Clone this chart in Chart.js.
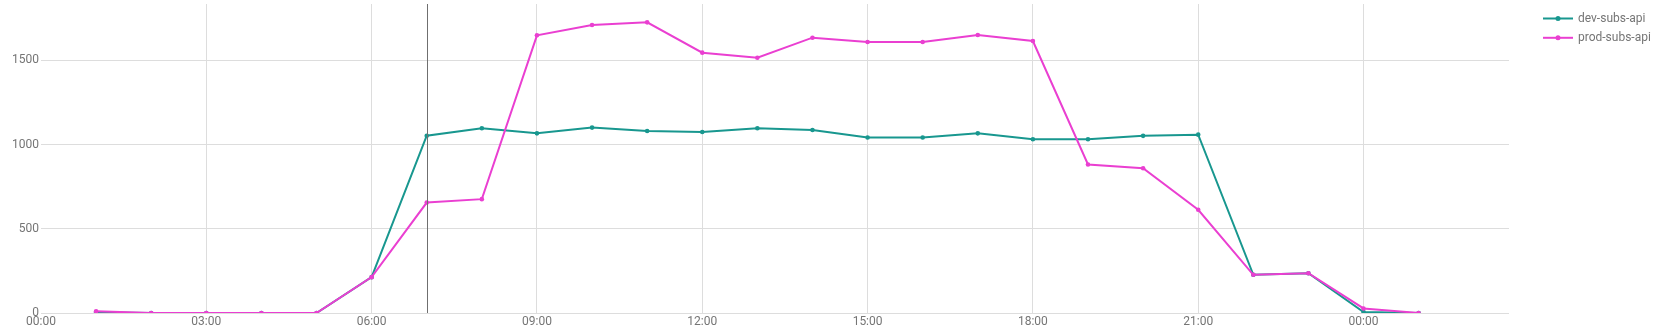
<!DOCTYPE html>
<html>
<head>
<meta charset="utf-8">
<script src="https://cdn.jsdelivr.net/npm/chart.js@4/dist/chart.umd.min.js"></script>
<style>
  html, body { margin: 0; padding: 0; background: #fff; }
  #wrap { width: 1659px; height: 330px; position: relative; }
</style>
</head>
<body>
<div id="wrap"><canvas id="subsChart"></canvas></div>
<script>
// hours since 00:00 of the day shown
const hours = [1, 2, 3, 4, 5, 6, 7, 8, 9, 10, 11, 12, 13, 14, 15, 16, 17, 18, 19, 20, 21, 22, 23, 24, 25];
const devSubs = [5, 0, 0, 0, 0, 213, 1053, 1097, 1067, 1101, 1081, 1075, 1097, 1087, 1042, 1042, 1067, 1032, 1032, 1052, 1059, 227, 236, 6, 0];
const prodSubs = [10, 0, 0, 0, 0, 213, 656, 676, 1649, 1710, 1726, 1546, 1516, 1635, 1609, 1609, 1651, 1615, 882, 860, 613, 227, 236, 27, 0];
const seriesNames = ["dev-subs-api", "prod-subs-api"];
const xTickValues = [0, 3, 6, 9, 12, 15, 18, 21, 24];
const xTickLabels = ["00:00", "03:00", "06:00", "09:00", "12:00", "15:00", "18:00", "21:00", "00:00"];
const yTickValues = [0, 500, 1000, 1500];
const cursorHour = 7;

const TEAL = "#18978f";
const PINK = "#ea3fd1";
const TEXT = "#757575";
const GRID = "#dddddd";

// vertical hover line + right-side legend
const overlayPlugin = {
  id: "overlay",
  afterDatasetsDraw(chart) {
    const { ctx, chartArea, scales } = chart;
    const x = Math.round(scales.x.getPixelForValue(cursorHour)) + 0.5;
    ctx.save();
    ctx.strokeStyle = "#6f6f6f";
    ctx.lineWidth = 1;
    ctx.beginPath();
    ctx.moveTo(x, chartArea.top);
    ctx.lineTo(x, chartArea.bottom);
    ctx.stroke();

    chart.data.datasets.forEach((ds, i) => {
      const y = 18.5 + i * 19.3;
      ctx.strokeStyle = ds.borderColor;
      ctx.lineWidth = 2;
      ctx.beginPath();
      ctx.moveTo(1543, y);
      ctx.lineTo(1573, y);
      ctx.stroke();
      ctx.fillStyle = ds.borderColor;
      ctx.beginPath();
      ctx.arc(1558, y, 2.5, 0, Math.PI * 2);
      ctx.fill();
      ctx.fillStyle = TEXT;
      ctx.font = "12px Roboto";
      ctx.textBaseline = "middle";
      ctx.textAlign = "left";
      ctx.fillText(ds.label, 1578, y);
    });
    ctx.restore();
  }
};

function toPoints(values) {
  return hours.map((h, i) => ({ x: h, y: values[i] }));
}

new Chart(document.getElementById("subsChart"), {
  type: "line",
  data: {
    datasets: [
      {
        label: seriesNames[0],
        data: toPoints(devSubs),
        borderColor: TEAL,
        backgroundColor: TEAL,
        borderWidth: 2,
        pointRadius: 2.3,
        pointBorderWidth: 0,
        pointBackgroundColor: TEAL,
        tension: 0,
        order: 1
      },
      {
        label: seriesNames[1],
        data: toPoints(prodSubs),
        borderColor: PINK,
        backgroundColor: PINK,
        borderWidth: 2,
        pointRadius: 2.3,
        pointBorderWidth: 0,
        pointBackgroundColor: PINK,
        tension: 0,
        order: 0
      }
    ]
  },
  options: {
    responsive: true,
    maintainAspectRatio: false,
    animation: false,
    layout: { padding: { top: 4, right: 150, left: 0, bottom: 0 } },
    plugins: {
      legend: { display: false },
      tooltip: { enabled: false }
    },
    scales: {
      x: {
        type: "linear",
        min: 0,
        max: 26.64,
        border: { display: false },
        grid: {
          drawTicks: false,
          color: ctx => (ctx.tick && ctx.tick.value === 0 ? "rgba(0,0,0,0)" : GRID)
        },
        afterBuildTicks: scale => { scale.ticks = xTickValues.map(v => ({ value: v })); },
        ticks: {
          autoSkip: false,
          maxRotation: 0,
          padding: 2,
          color: TEXT,
          font: { family: "Roboto", size: 12 },
          callback: (value, index) => xTickLabels[index]
        },
        afterFit: scale => { scale.height = 17; scale.paddingLeft = 0; scale.paddingRight = 0; }
      },
      y: {
        min: 0,
        max: 1835,
        border: { display: false },
        grid: { drawTicks: false, color: GRID },
        afterBuildTicks: scale => { scale.ticks = yTickValues.map(v => ({ value: v })); },
        ticks: {
          autoSkip: false,
          padding: 2,
          color: TEXT,
          font: { family: "Roboto", size: 12 },
          callback: value => String(value)
        },
        afterFit: scale => { scale.width = 41; scale.paddingTop = 0; scale.paddingBottom = 0; }
      }
    }
  },
  plugins: [overlayPlugin]
});
</script>
</body>
</html>
